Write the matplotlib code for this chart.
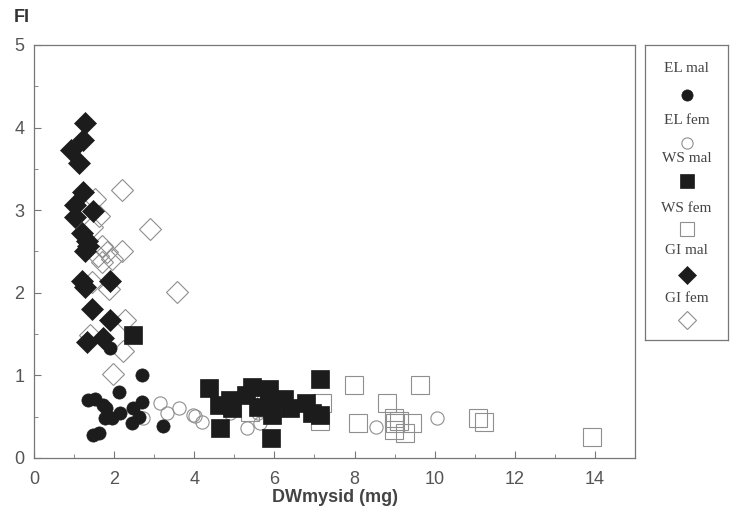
import matplotlib.pyplot as plt
from matplotlib.ticker import MultipleLocator

# EL males (filled circles)
el_mal_x = [1.9, 2.69, 2.13, 1.36, 1.53, 1.73, 1.8, 2.69, 2.48, 2.15, 1.78, 1.94, 2.61, 2.44, 3.23, 1.48, 1.61]
el_mal_y = [1.33, 1.0, 0.80, 0.70, 0.71, 0.64, 0.60, 0.68, 0.60, 0.54, 0.49, 0.48, 0.50, 0.42, 0.39, 0.28, 0.30]
# EL females (open circles)
el_fem_x = [3.15, 3.32, 3.61, 4.03, 4.19, 2.73, 3.98, 5.32, 5.65, 5.6, 4.9, 8.53, 10.07, 5.0]
el_fem_y = [0.67, 0.54, 0.60, 0.51, 0.43, 0.48, 0.52, 0.36, 0.42, 0.54, 0.54, 0.37, 0.49, 0.60]
# WS males (filled squares)
ws_mal_x = [4.36, 4.61, 4.9, 4.94, 5.28, 5.44, 5.86, 5.86, 5.94, 6.23, 6.4, 6.78, 6.94, 7.15, 7.13, 4.65, 5.92, 5.6, 2.48]
ws_mal_y = [0.85, 0.64, 0.70, 0.60, 0.76, 0.86, 0.84, 0.70, 0.52, 0.72, 0.60, 0.66, 0.54, 0.52, 0.96, 0.36, 0.24, 0.62, 1.49]
# WS females (open squares)
ws_fem_x = [7.98, 9.63, 8.8, 8.08, 8.98, 9.0, 8.98, 9.27, 9.44, 11.07, 11.23, 13.92, 9.1, 7.15, 5.4, 5.78, 7.19]
ws_fem_y = [0.88, 0.88, 0.66, 0.42, 0.48, 0.42, 0.34, 0.30, 0.42, 0.48, 0.44, 0.26, 0.45, 0.45, 0.56, 0.64, 0.66]
# GI males (filled diamonds)
gi_mal_x = [1.28, 1.23, 0.92, 1.13, 1.23, 1.03, 1.48, 1.03, 1.19, 1.32, 1.35, 1.28, 1.19, 1.28, 1.9, 1.44, 1.9, 1.32, 1.73]
gi_mal_y = [4.06, 3.85, 3.73, 3.57, 3.22, 3.06, 2.99, 2.92, 2.73, 2.63, 2.57, 2.51, 2.14, 2.07, 2.14, 1.80, 1.67, 1.41, 1.45]
# GI females (open diamonds)
gi_fem_x = [2.19, 1.53, 1.61, 2.9, 1.44, 1.69, 1.82, 2.19, 1.94, 1.69, 1.6, 1.44, 1.86, 3.57, 2.28, 1.4, 2.23, 1.98]
gi_fem_y = [3.25, 3.14, 2.93, 2.77, 2.80, 2.57, 2.49, 2.51, 2.41, 2.37, 2.45, 2.13, 2.05, 2.01, 1.67, 1.49, 1.30, 1.02]

dark = '#1c1c1c'
grey = '#8f8f8f'
styles = [
    ('EL mal', el_mal_x, el_mal_y, 'o', 9.5, dark, dark),
    ('EL fem', el_fem_x, el_fem_y, 'o', 9.5, 'none', grey),
    ('WS mal', ws_mal_x, ws_mal_y, 's', 12.5, dark, dark),
    ('WS fem', ws_fem_x, ws_fem_y, 's', 12.5, 'none', grey),
    ('GI mal', gi_mal_x, gi_mal_y, 'D', 11, dark, dark),
    ('GI fem', gi_fem_x, gi_fem_y, 'D', 11, 'none', grey),
]

fig = plt.figure(figsize=(7.31, 5.12), dpi=100)
ax = fig.add_axes([34/731, 54/512, 601/731, 413/512])

# open markers first, filled ones on top
for name, xs, ys, m, ms, fc, ec in styles:
    ax.plot(xs, ys, linestyle='none', marker=m, markersize=ms,
            markerfacecolor=fc, markeredgecolor=ec,
            markeredgewidth=0.8 if fc == 'none' else 0.5,
            zorder=2 if fc == 'none' else 3)

ax.set_xlim(0, 15)
ax.set_ylim(0, 5)
ax.xaxis.set_major_locator(MultipleLocator(2))
ax.xaxis.set_minor_locator(MultipleLocator(1))
ax.yaxis.set_major_locator(MultipleLocator(1))
ax.yaxis.set_minor_locator(MultipleLocator(0.5))
ax.set_xticks(range(0, 15, 2))
ax.tick_params(which='both', direction='in', color='#777777', labelcolor='#555555', labelsize=13)
ax.tick_params(which='major', length=5)
ax.tick_params(which='minor', length=3)
ax.tick_params(axis='x', which='major', pad=9)
ax.tick_params(axis='y', which='major', pad=7)
for lab in ax.get_xticklabels() + ax.get_yticklabels():
    lab.set_family('Liberation Sans')
for s in ax.spines.values():
    s.set_color('#777777')
    s.set_linewidth(0.9)
ax.set_xlabel('DWmysid (mg)', fontsize=13, fontweight='bold', color='#444444',
              family='Liberation Sans', labelpad=1)
fig.text(14/731, 1 - 18/512, 'FI', fontsize=13, fontweight='bold', color='#333333',
         family='Liberation Sans', ha='left', va='center')

# legend box
lax = fig.add_axes([645/731, 1 - 340/512, 83/731, 295/512])
lax.set_xlim(0, 1)
lax.set_ylim(340, 45)
lax.set_xticks([])
lax.set_yticks([])
for s in lax.spines.values():
    s.set_color('#777777')
    s.set_linewidth(0.9)
text_y = [68, 120, 158, 208, 250, 298]
mark_y = [95, 143, 181, 229, 275, 320]
for (name, xs, ys, m, ms, fc, ec), ty, my in zip(styles, text_y, mark_y):
    lax.text(0.5, ty, name, ha='center', va='center', fontsize=11,
             family='Liberation Serif', color='#444444')
    lax.plot([0.5], [my], linestyle='none', marker=m, markersize=ms * 0.85,
             markerfacecolor=fc, markeredgecolor=ec,
             markeredgewidth=0.8 if fc == 'none' else 0.5)

fig.savefig('out.png', dpi=100)
